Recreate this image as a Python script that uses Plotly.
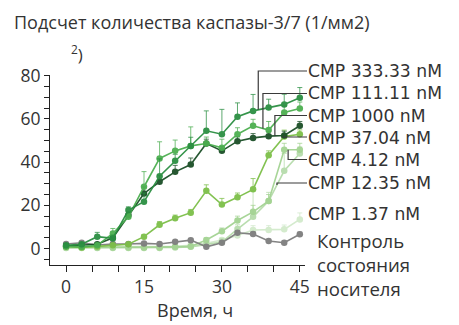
import numpy as np
import plotly.graph_objects as go

# ---- data -------------------------------------------------------------
hours = [0, 3, 6, 9, 12, 15, 18, 21, 24, 27, 30, 33, 36, 39, 42, 45]

cmp_333 = [1.5, 2.0, 5.5, 4.7, 17.8, 21.7, 33.5, 40.6, 47.5, 54.5, 52.9, 61.0, 63.7, 65.3, 66.7, 69.8]
cmp_111 = [1.0, 0.8, 1.5, 7.0, 14.7, 28.6, 41.7, 45.2, 47.5, 48.6, 46.6, 52.9, 56.8, 54.8, 63.0, 64.8]
cmp_1000 = [1.2, 1.5, 2.0, 5.0, 15.5, 25.5, 30.9, 35.5, 38.9, 48.6, 45.2, 49.7, 51.2, 52.0, 52.3, 56.8]
cmp_37 = [1.0, 0.5, 1.0, 1.5, 2.0, 5.5, 11.0, 14.0, 16.6, 26.7, 20.4, 23.7, 27.4, 43.2, 51.8, 52.9]
cmp_4 = [0.5, 0.5, 0.5, 0.5, 0.5, 0.5, 0.5, 0.8, 1.0, 4.0, 8.0, 13.0, 17.0, 22.0, 45.7, 45.7]
cmp_12 = [0.3, 0.3, 0.3, 0.3, 0.3, 0.3, 0.3, 0.5, 0.8, 2.0, 3.0, 9.0, 14.7, 22.0, 36.0, 44.0]
cmp_1 = [0.8, 0.8, 0.8, 0.8, 0.8, 0.8, 0.8, 1.0, 1.5, 2.5, 4.0, 6.0, 8.6, 8.6, 8.9, 13.5]
vehicle = [2.1, 2.7, 1.6, 2.1, 2.1, 2.4, 2.1, 3.1, 3.9, 0.8, 2.7, 7.3, 6.7, 3.5, 2.7, 6.6]

err_333 = [0.5, 0.5, 2.0, 1.5, 1.5, 4.0, 8.0, 3.0, 4.0, 9.2, 11.5, 6.4, 7.6, 3.8, 4.7, 4.7]
err_111 = [0.5, 0.5, 0.5, 2.3, 1.5, 7.0, 7.7, 5.0, 8.8, 3.0, 4.0, 3.0, 3.0, 4.0, 3.0, 3.0]
err_1000 = [0.5, 0.5, 0.5, 1.0, 1.5, 3.0, 3.0, 3.0, 3.0, 2.0, 2.0, 2.0, 2.0, 2.0, 2.0, 2.0]
err_37 = [0.5, 0.5, 0.5, 0.5, 0.5, 1.0, 1.5, 1.5, 1.5, 2.8, 2.8, 2.0, 5.0, 2.0, 3.0, 2.0]
err_4 = [0.3, 0.3, 0.3, 0.3, 0.3, 0.3, 0.3, 0.5, 0.5, 1.0, 1.5, 2.0, 3.0, 3.0, 3.0, 3.0]
err_12 = [0.3, 0.3, 0.3, 0.3, 0.3, 0.3, 0.3, 0.5, 0.5, 1.0, 1.5, 2.0, 12.0, 4.0, 8.0, 3.0]
err_1 = [0.3, 0.3, 0.3, 0.3, 0.3, 0.3, 0.3, 0.5, 0.5, 0.8, 1.0, 1.5, 2.0, 2.0, 2.0, 3.0]
err_vehicle = [0.5, 0.5, 0.5, 0.5, 0.5, 0.5, 0.5, 0.5, 0.8, 0.5, 0.5, 1.0, 1.0, 0.8, 0.8, 1.0]

series_labels = ["CMP 333.33 nM", "CMP 111.11 nM", "CMP 1000 nM", "CMP 37.04 nM",
                 "CMP 4.12 nM", "CMP 12.35 nM", "CMP 1.37 nM"]
vehicle_label = ["Контроль", "состояния", "носителя"]

title_text = "Подсчет количества каспазы-3/7 (1/мм2)"
x_title = "Время, ч"

# ---- geometry ---------------------------------------------------------
W, H = 459, 325
ML, MR, MT, MB = 50, 154, 75, 60
PW = W - ML - MR
PH = H - MT - MB
X_RANGE = [-3.1, 46.0]
Y_RANGE = [-7.6, 80.3]

FONT = "Open Sans"
LABEL_FONT = "DejaVu Sans"
TXT = "#333333"


def px_x(px):
    return (px - ML) / PW


def px_y(py):
    return (H - MB - py) / PH


def data_y_paper(v):
    return (v - Y_RANGE[0]) / (Y_RANGE[1] - Y_RANGE[0])


def data_x_paper(t):
    return (t - X_RANGE[0]) / (X_RANGE[1] - X_RANGE[0])


fig = go.Figure()

# draw order: pale doses first, strongest doses on top
traces = [
    (cmp_1, err_1, "#d2eacb", "CMP 1.37 nM"),
    (cmp_12, err_12, "#b6dcab", "CMP 12.35 nM"),
    (cmp_4, err_4, "#a3d392", "CMP 4.12 nM"),
    (vehicle, err_vehicle, "#7d7d7d", "vehicle"),
    (cmp_37, err_37, "#7cbf48", "CMP 37.04 nM"),
    (cmp_1000, err_1000, "#1b4f27", "CMP 1000 nM"),
    (cmp_111, err_111, "#4caf50", "CMP 111.11 nM"),
    (cmp_333, err_333, "#2b8f42", "CMP 333.33 nM"),
]

for ys, errs, color, name in traces:
    fig.add_trace(go.Scatter(
        x=hours, y=ys, name=name, mode="lines+markers",
        line=dict(color=color, width=1.6),
        marker=dict(color=color, size=6.5),
        error_y=dict(type="data", array=errs, arrayminus=[0] * len(errs),
                     symmetric=False, color=color, thickness=0.8, width=2.5),
        opacity=0.95,
        showlegend=False,
    ))

# ---- labels with leader lines -----------------------------------------
label_x_px = 307
label_y_px = [71, 93.5, 115.5, 137, 159.5, 183, 214]
LABEL_SIZE = 17.2  # line pitch 1.3 * size ~ 22.4 px

# (series values, anchor time) for each labelled dose; None = no leader
leaders = [
    (cmp_333, 37.0),
    (cmp_111, 37.9),
    (cmp_1000, 40.2),
    (cmp_37, 41.8),
    (cmp_4, 42.75),
    (cmp_12, 40.6),
    None,
]

annotations = []
shapes = []

# first six dose labels stacked as one text block
block = series_labels[:6]
annotations.append(dict(
    text="<br>".join(block), xref="paper", yref="paper", align="left",
    x=px_x(label_x_px), y=px_y((label_y_px[0] + label_y_px[5]) / 2),
    xanchor="left", yanchor="middle", showarrow=False, borderpad=0,
    font=dict(family=LABEL_FONT, size=LABEL_SIZE, color=TXT)))
annotations.append(dict(
    text=series_labels[6], xref="paper", yref="paper",
    x=px_x(label_x_px), y=px_y(label_y_px[6]),
    xanchor="left", yanchor="middle", showarrow=False, borderpad=0,
    font=dict(family=LABEL_FONT, size=LABEL_SIZE, color=TXT)))

for ly, leader in zip(label_y_px, leaders):
    if leader is None:
        continue
    vals, t_anchor = leader
    v = float(np.interp(t_anchor, hours, vals))
    x0 = px_x(label_x_px)
    y0 = px_y(ly)
    x1 = data_x_paper(t_anchor)
    y1 = data_y_paper(v)
    shapes.append(dict(
        type="path", xref="paper", yref="paper",
        path=f"M {x0},{y0} L {x1},{y0} L {x1},{y1}",
        line=dict(color="#3a3a3a", width=1.2)))

annotations.append(dict(
    text="<br>".join(vehicle_label), xref="paper", yref="paper", align="left",
    x=px_x(316), y=px_y(264.5),
    xanchor="left", yanchor="middle", showarrow=False, borderpad=0,
    font=dict(family=FONT, size=18.6, color=TXT)))

annotations.append(dict(
    text=title_text, xref="paper", yref="paper", x=px_x(13), y=px_y(22),
    xanchor="left", yanchor="middle", showarrow=False, borderpad=0,
    font=dict(family=FONT, size=18, color=TXT)))
annotations.append(dict(
    text="<sup>2</sup>)", xref="paper", yref="paper", x=px_x(70), y=px_y(53),
    xanchor="left", yanchor="middle", showarrow=False, borderpad=0,
    font=dict(family=FONT, size=17, color=TXT)))
annotations.append(dict(
    text=x_title, xref="paper", yref="paper", x=px_x(195), y=px_y(310),
    xanchor="center", yanchor="middle", showarrow=False, borderpad=0,
    font=dict(family=FONT, size=18, color=TXT)))

axis_common = dict(
    showgrid=False, zeroline=False, showline=True, linecolor="#222222",
    linewidth=1.2, ticks="outside", tickcolor="#222222", tickwidth=1.2,
    tickfont=dict(family=FONT, size=17.5, color=TXT), tickmode="linear", tick0=0,
)

fig.update_layout(
    width=W, height=H,
    margin=dict(l=ML, r=MR, t=MT, b=MB, pad=0),
    paper_bgcolor="white", plot_bgcolor="white",
    xaxis=dict(range=X_RANGE, dtick=15, ticklen=6,
               minor=dict(tickmode="linear", tick0=0, dtick=5, ticks="outside",
                          ticklen=6, tickcolor="#222222", tickwidth=1.2),
               **axis_common),
    yaxis=dict(range=Y_RANGE, dtick=20, ticklen=5,
               minor=dict(tickmode="linear", tick0=0, dtick=5, ticks="outside",
                          ticklen=5, tickcolor="#222222", tickwidth=1.2),
               **axis_common),
    annotations=annotations,
    shapes=shapes,
    showlegend=False,
)

fig.write_html("out.html")
